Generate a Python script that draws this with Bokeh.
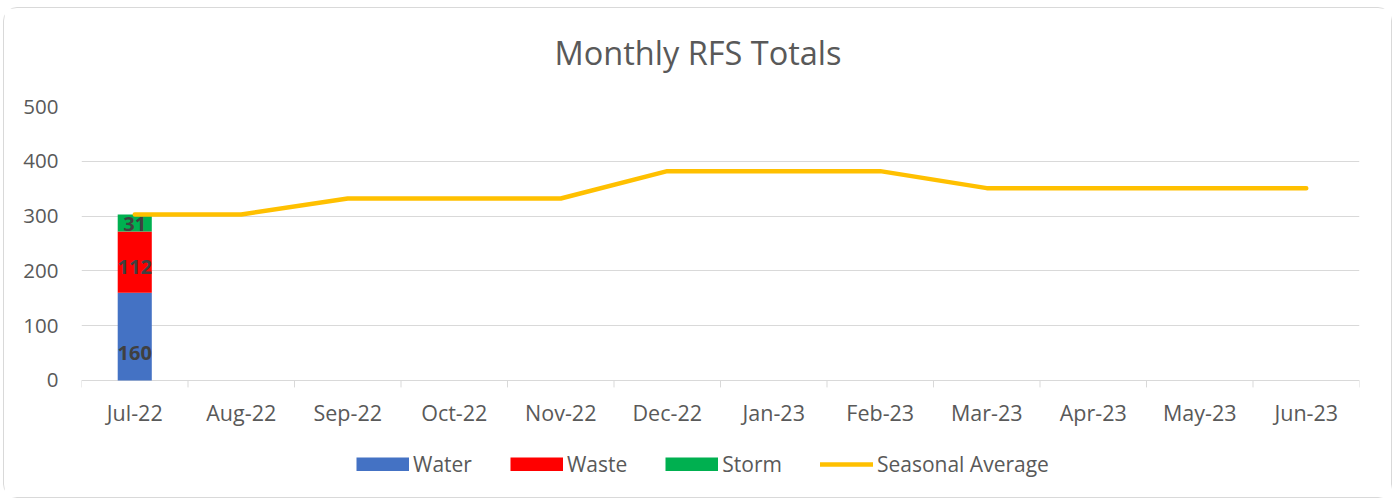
from bokeh.plotting import figure
from bokeh.models import (ColumnDataSource, FixedTicker, Legend, LegendItem, Range1d, Title)
from bokeh.core.properties import value
from bokeh.embed import file_html
from bokeh.resources import INLINE

months = ["Jul-22", "Aug-22", "Sep-22", "Oct-22", "Nov-22", "Dec-22",
          "Jan-23", "Feb-23", "Mar-23", "Apr-23", "May-23", "Jun-23"]
water = [160, 0, 0, 0, 0, 0, 0, 0, 0, 0, 0, 0]
waste = [112, 0, 0, 0, 0, 0, 0, 0, 0, 0, 0, 0]
storm = [31, 0, 0, 0, 0, 0, 0, 0, 0, 0, 0, 0]
seasonal_avg = [303, 303, 332, 332, 332, 382, 382, 382, 351, 351, 351, 351]
y_ticks = [0, 100, 200, 300, 400, 500]

FONT = "Open Sans"
GREY = "#595959"
AXIS_GREY = "#d9d9d9"

# frame extends below zero to host the category labels and the legend
FRAME_H = 378
Y_MIN, Y_MAX = -190, 500
units_per_px = (Y_MAX - Y_MIN) / FRAME_H

xs = [i + 0.5 for i in range(len(months))]
src = ColumnDataSource(dict(x=xs, water=water, waste=waste, storm=storm, avg=seasonal_avg))

p = figure(frame_width=1278, frame_height=FRAME_H, output_backend="svg", toolbar_location=None,
           x_range=Range1d(0, len(months)), y_range=Range1d(Y_MIN, Y_MAX),
           min_border_left=77, min_border_right=32, min_border_top=98, min_border_bottom=13)
p.styles = {"border": "1px solid #d9d9d9", "border-radius": "14px",
            "margin-top": "7px", "margin-left": "3px"}
p.outline_line_color = None

p.title.text = "Monthly RFS Totals"
p.title.align = "left"
p.title.offset = 473
p.title.text_font = FONT
p.title.text_font_size = "32.5px"
p.title.text_font_style = "normal"
p.title.text_color = GREY
p.title.standoff = 10
# blank spacer between title and frame
p.add_layout(Title(text=" ", text_font_size="14px", standoff=9), "above")

colors = ["#4472C4", "#FF0000", "#00B050"]
bars = p.vbar_stack(["water", "waste", "storm"], x="x", width=0.32, source=src,
                    color=colors, line_color=None)
line = p.line("x", "avg", source=src, line_color="#FFC000", line_width=4.5,
              line_cap="round")

# data labels
lx, ly, lt, lb, loff = [], [], [], [], []
for i in range(len(months)):
    base = 0
    for k, vals in enumerate([water, waste, storm]):
        v = vals[i]
        if v > 0:
            lx.append(xs[i])
            if k == 0:
                ly.append(base)
                lb.append("bottom")
                loff.append(-20)
            else:
                ly.append(base + v / 2)
                lb.append("middle")
                loff.append(5 if k == 1 else 1)
            lt.append(str(v))
        base += v
lsrc = ColumnDataSource(dict(x=lx, y=ly, t=lt, b=lb, off=loff))
p.text("x", "y", text="t", source=lsrc, text_align="center", text_baseline="b",
       y_offset="off", text_font=value(FONT), text_font_size="20px",
       text_font_style="bold", text_color="#404040")

# category axis drawn inside the extended frame
p.xaxis.visible = False
bounds = list(range(len(months) + 1))
p.segment(x0=bounds, y0=[0] * len(bounds), x1=bounds, y1=[-7 * units_per_px] * len(bounds),
          line_color=AXIS_GREY, line_width=1)
p.text(x=xs, y=[0] * len(xs), text=months, text_align="center", text_baseline="middle",
       y_offset=32, text_font=value(FONT), text_font_size="21.5px", text_color=GREY)

p.yaxis.ticker = FixedTicker(ticks=y_ticks)
p.yaxis.axis_line_color = None
p.yaxis.major_tick_line_color = None
p.yaxis.minor_tick_line_color = None
p.yaxis.major_tick_out = 0
p.yaxis.major_label_standoff = 23
p.yaxis.major_label_text_font = FONT
p.yaxis.major_label_text_font_size = "20.5px"
p.yaxis.major_label_text_color = GREY

p.xgrid.grid_line_color = None
p.ygrid.ticker = FixedTicker(ticks=y_ticks)
p.ygrid.grid_line_color = AXIS_GREY
p.ygrid.grid_line_width = 1

# legend swatches: thick single-point proxy lines (draw nothing in the plot)
proxies = [p.line(x=xs[:1], y=vals[:1], line_color=c, line_width=14, line_cap="butt")
           for c, vals in zip(colors, [water, waste, storm])]

legend = Legend(items=[
    LegendItem(label="Water", renderers=[proxies[0]]),
    LegendItem(label="Waste", renderers=[proxies[1]]),
    LegendItem(label="Storm", renderers=[proxies[2]]),
    LegendItem(label="Seasonal Average", renderers=[line]),
], orientation="horizontal", location=(275, 6))
legend.glyph_width = 53
legend.glyph_height = 14
legend.label_standoff = 4
legend.spacing = 38
legend.padding = 0
legend.margin = 0
legend.border_line_color = None
legend.background_fill_alpha = 0
legend.label_text_font = FONT
legend.label_text_font_size = "21px"
legend.label_text_color = GREY
p.add_layout(legend)

open("out.html", "w").write(file_html(p, INLINE))
